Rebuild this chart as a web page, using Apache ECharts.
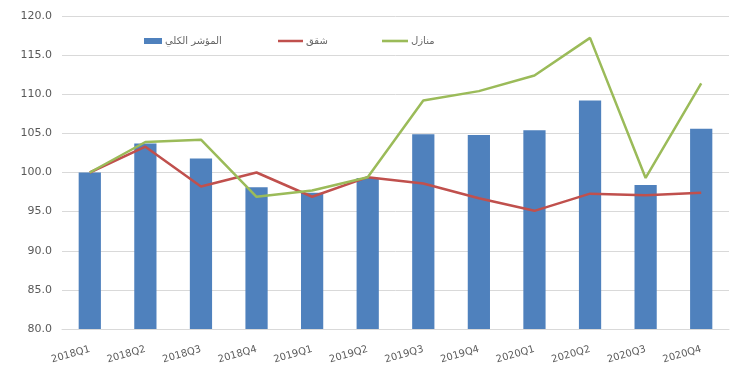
<!DOCTYPE html>
<html>
<head>
<meta charset="utf-8">
<script src="https://cdn.jsdelivr.net/npm/echarts@6/dist/echarts.min.js"></script>
<style>html,body{margin:0;padding:0;background:#fff}#c{width:750px;height:381px}</style>
</head>
<body>
<div id="c"></div>
<script>
var categories = ['2018Q1','2018Q2','2018Q3','2018Q4','2019Q1','2019Q2','2019Q3','2019Q4','2020Q1','2020Q2','2020Q3','2020Q4'];
var totalIndex = [100.0,103.7,101.8,98.1,97.4,99.3,104.9,104.8,105.4,109.2,98.4,105.6];
var apartments = [100.0,103.3,98.2,100.0,96.9,99.4,98.6,96.7,95.1,97.3,97.1,97.4];
var houses = [100.0,103.9,104.2,96.9,97.7,99.4,109.2,110.4,112.4,117.2,99.3,111.4];
var seriesNames = ['المؤشر الكلي','شقق','منازل'];
var yMin = 80, yMax = 120, yStep = 5;

var chart = echarts.init(document.getElementById('c'));
var font = 'DejaVu Sans, sans-serif';
var lineIcon = 'path://M0 0H40V4H0Z';
function leg(name, left, icon, w, h) {
  return {
    left: left, top: 31, itemWidth: w, itemHeight: h, itemGap: 3,
    symbolKeepAspect: true,
    textStyle: {color: '#666666', fontSize: 10, fontFamily: font, padding: [0,0,0,-2]},
    data: [{name: name, icon: icon}]
  };
}
chart.setOption({
  animation: false,
  backgroundColor: '#fff',
  textStyle: {fontFamily: font},
  legend: [
    leg(seriesNames[0], 139, 'rect', 18, 6),
    leg(seriesNames[1], 273, lineIcon, 25, 8),
    leg(seriesNames[2], 377, lineIcon, 26, 8)
  ],
  grid: {left: 62, right: 21, top: 16, bottom: 52},
  xAxis: {
    type: 'category',
    data: categories,
    axisLine: {lineStyle: {color: '#d9d9d9'}},
    axisTick: {show: false},
    axisLabel: {rotate: 16, color: '#595959', fontSize: 10, margin: 20, interval: 0}
  },
  yAxis: {
    type: 'value',
    min: yMin, max: yMax, interval: yStep,
    axisLine: {show: false},
    axisTick: {show: false},
    splitLine: {lineStyle: {color: '#d9d9d9'}},
    axisLabel: {color: '#595959', fontSize: 11, margin: 10, formatter: function(v){return v.toFixed(1);}}
  },
  series: [
    {name: seriesNames[0], type: 'bar', data: totalIndex, barWidth: '40%', itemStyle: {color: '#4F81BD'}},
    {name: seriesNames[1], type: 'line', data: apartments, symbol: 'none', lineStyle: {color: '#C0504D', width: 2.5}, itemStyle: {color: '#C0504D'}},
    {name: seriesNames[2], type: 'line', data: houses, symbol: 'none', lineStyle: {color: '#9BBB59', width: 2.5}, itemStyle: {color: '#9BBB59'}}
  ]
});
</script>
</body>
</html>
